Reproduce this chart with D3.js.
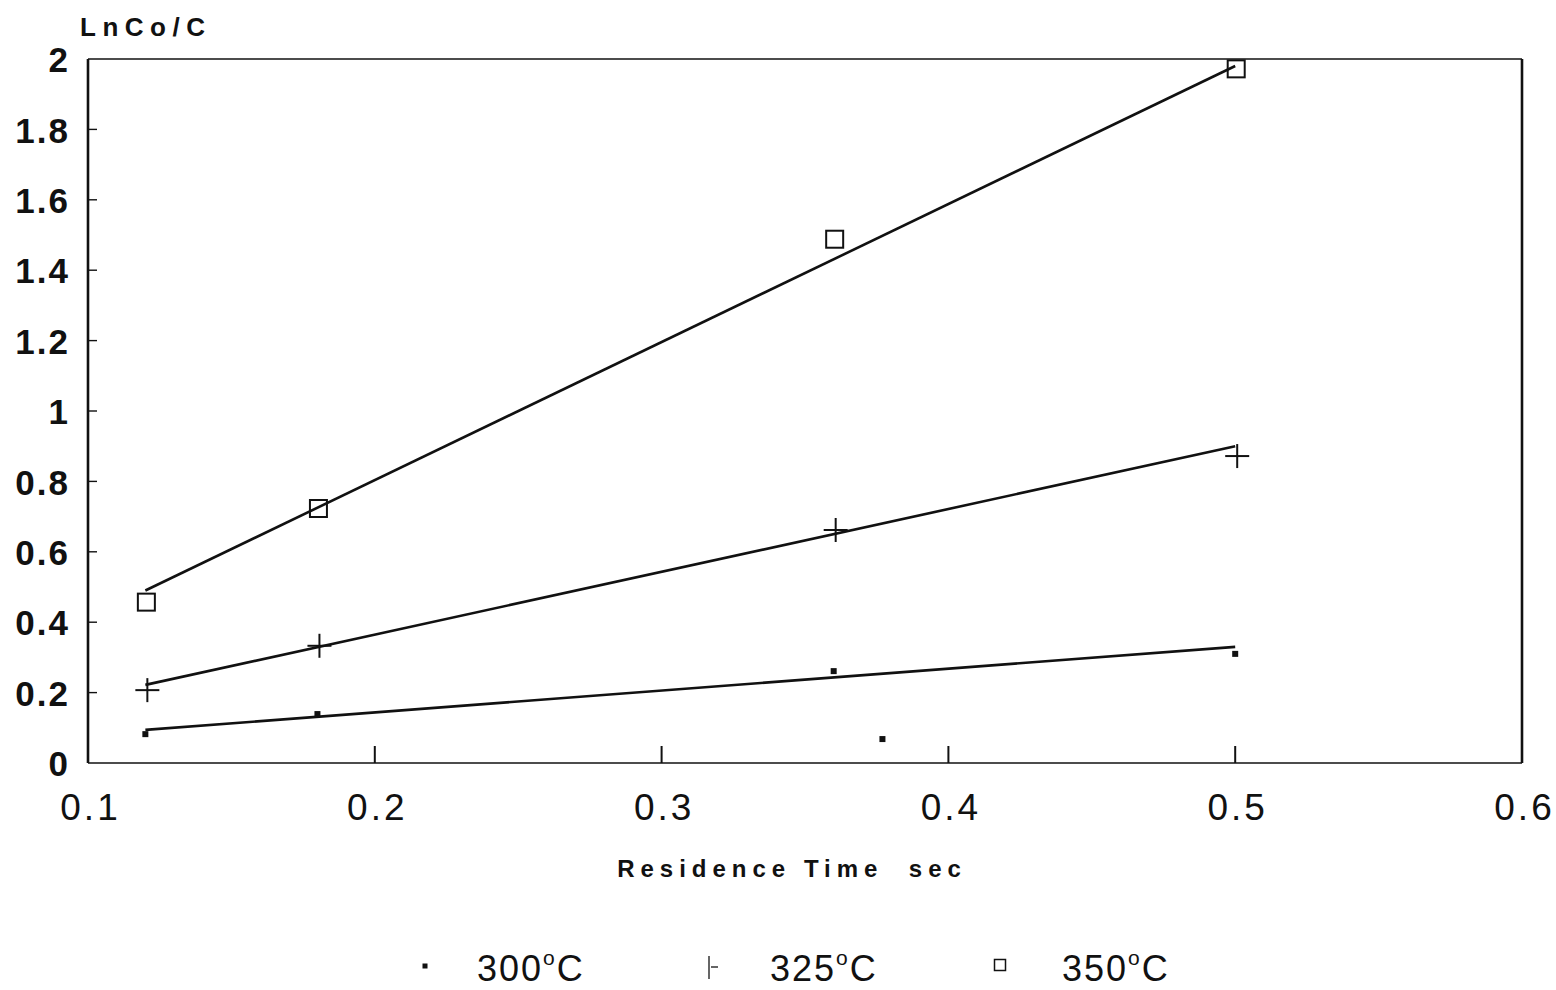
<!DOCTYPE html>
<html>
<head>
<meta charset="utf-8">
<script src="https://cdn.jsdelivr.net/npm/d3@7"></script>
<style>
  html, body { margin: 0; padding: 0; background: #fff; }
  svg { display: block; }
</style>
</head>
<body>
<svg id="chart" width="1556" height="990"></svg>
<script>
// Residence times (sec) at which conversion was measured
const times = [0.12, 0.18, 0.36, 0.5];

// ln(Co/C) measured at each temperature
const values300 = [0.082, 0.139, 0.261, 0.31];
const values325 = [0.207, 0.333, 0.662, 0.872];
const values350 = [0.457, 0.723, 1.488, 1.972];

// extra 300°C reading
const extraTime300 = [0.377];
const extraValue300 = [0.068];

// straight-line fits, given at the first and last residence time
const fitTimes = [0.12, 0.5];
const fit300 = [0.094, 0.33];
const fit325 = [0.222, 0.9];
const fit350 = [0.49, 1.98];

const xTicks = [0.1, 0.2, 0.3, 0.4, 0.5, 0.6];
const yTicks = [0, 0.2, 0.4, 0.6, 0.8, 1, 1.2, 1.4, 1.6, 1.8, 2];
const legendLabels = ["300", "325", "350"];

const svg = d3.select("#chart");
const x = d3.scaleLinear().domain([0.1, 0.6]).range([88, 1522]);
const y = d3.scaleLinear().domain([0, 2]).range([763, 59]);

const font = "Liberation Sans, Arial, Helvetica, sans-serif";

// frame
svg.append("line").attr("x1", x(0.1)).attr("x2", x(0.6)).attr("y1", y(2)).attr("y2", y(2))
  .attr("stroke", "#111").attr("stroke-width", 1.6);
svg.append("line").attr("x1", x(0.1)).attr("x2", x(0.6)).attr("y1", y(0)).attr("y2", y(0))
  .attr("stroke", "#111").attr("stroke-width", 1.6);
svg.append("line").attr("x1", x(0.1)).attr("x2", x(0.1)).attr("y1", y(2)).attr("y2", y(0))
  .attr("stroke", "#111").attr("stroke-width", 2.6);
svg.append("line").attr("x1", x(0.6)).attr("x2", x(0.6)).attr("y1", y(2)).attr("y2", y(0))
  .attr("stroke", "#111").attr("stroke-width", 2.6);

// y axis: inward ticks, bold labels
const yAxis = d3.axisLeft(y).tickValues(yTicks).tickSize(0).tickPadding(18)
  .tickFormat(d => d3.format("")(d));
const gy = svg.append("g").attr("transform", `translate(${x(0.1)},0)`).call(yAxis);
gy.select(".domain").remove();
gy.selectAll("text").attr("font-family", font).attr("font-weight", "bold")
  .attr("font-size", 35).attr("letter-spacing", 2).attr("fill", "#111").attr("dy", "0.36em");
svg.append("g").selectAll("line").data(yTicks.filter(d => d > 0 && d < 2)).join("line")
  .attr("x1", x(0.1)).attr("x2", x(0.1) + 9)
  .attr("y1", d => y(d)).attr("y2", d => y(d))
  .attr("stroke", "#111").attr("stroke-width", 1.4);

// x axis: inward ticks, labels below
const xAxis = d3.axisBottom(x).tickValues(xTicks).tickSize(0)
  .tickFormat(d => d3.format("")(d));
const gx = svg.append("g").attr("transform", `translate(0,${y(0)})`).call(xAxis);
gx.select(".domain").remove();
gx.selectAll("text").attr("font-family", font).attr("y", 57).attr("dy", 0)
  .attr("font-size", 37).attr("fill", "#111").attr("letter-spacing", 3).attr("dx", 2);
svg.append("g").selectAll("line").data(xTicks.filter(d => d > 0.1 && d < 0.6)).join("line")
  .attr("x1", d => x(d)).attr("x2", d => x(d))
  .attr("y1", y(0)).attr("y2", y(0) - 17)
  .attr("stroke", "#111").attr("stroke-width", 2);

// axis titles
svg.append("text").attr("x", 80).attr("y", 36).text("LnCo/C")
  .attr("font-family", font).attr("font-weight", "bold").attr("font-size", 26)
  .attr("letter-spacing", 6.5).attr("fill", "#111");
svg.append("text").attr("x", 792).attr("y", 877).attr("text-anchor", "middle")
  .text("Residence Time  sec")
  .attr("font-family", font).attr("font-weight", "bold").attr("font-size", 24)
  .attr("letter-spacing", 6).attr("fill", "#111").style("white-space", "pre");

// fitted lines
const line = d3.line().x(d => x(d[0])).y(d => y(d[1]));
[fit300, fit325, fit350].forEach(f => {
  svg.append("path").attr("d", line(fitTimes.map((t, i) => [t, f[i]])))
    .attr("fill", "none").attr("stroke", "#111").attr("stroke-width", 2.6);
});

// markers
const pts300 = times.map((t, i) => [t, values300[i]])
  .concat(extraTime300.map((t, i) => [t, extraValue300[i]]));
const pts325 = times.map((t, i) => [t, values325[i]]);
const pts350 = times.map((t, i) => [t, values350[i]]);

function dot(g, cx, cy, s) {
  g.append("rect").attr("x", cx - s / 2).attr("y", cy - s / 2).attr("width", s).attr("height", s)
    .attr("fill", "#111");
}
function plus(g, cx, cy, s, w) {
  g.append("line").attr("x1", cx - s / 2).attr("x2", cx + s / 2).attr("y1", cy).attr("y2", cy)
    .attr("stroke", "#111").attr("stroke-width", w);
  g.append("line").attr("x1", cx).attr("x2", cx).attr("y1", cy - s / 2).attr("y2", cy + s / 2)
    .attr("stroke", "#111").attr("stroke-width", w);
}
function box(g, cx, cy, s, w) {
  g.append("rect").attr("x", cx - s / 2).attr("y", cy - s / 2).attr("width", s).attr("height", s)
    .attr("fill", "none").attr("stroke", "#111").attr("stroke-width", w);
}

const gm = svg.append("g");
pts300.forEach(p => dot(gm, x(p[0]), y(p[1]), 6));
pts325.forEach(p => plus(gm, x(p[0]) + 2, y(p[1]), 24, 2));
pts350.forEach(p => box(gm, x(p[0]) + 1, y(p[1]), 17, 2));

// legend
const legX = [425, 709, 1000];
const textX = [477, 770, 1062];
const lg = svg.append("g");
dot(lg, legX[0], 966, 5);
lg.append("line").attr("x1", legX[1]).attr("x2", legX[1]).attr("y1", 956).attr("y2", 979)
  .attr("stroke", "#333").attr("stroke-width", 1.5);
lg.append("line").attr("x1", legX[1] + 2).attr("x2", legX[1] + 9).attr("y1", 967).attr("y2", 967)
  .attr("stroke", "#333").attr("stroke-width", 1.5);
box(lg, legX[2], 965, 11, 1.5);

legendLabels.forEach((lab, i) => {
  const t = lg.append("text").attr("x", textX[i]).attr("y", 981)
    .attr("font-family", font).attr("font-size", 36).attr("letter-spacing", 2).attr("fill", "#111");
  t.append("tspan").text(lab);
  t.append("tspan").text("o").attr("font-size", 21).attr("dy", -16);
  t.append("tspan").text("C").attr("dy", 16);
});
</script>
</body>
</html>
